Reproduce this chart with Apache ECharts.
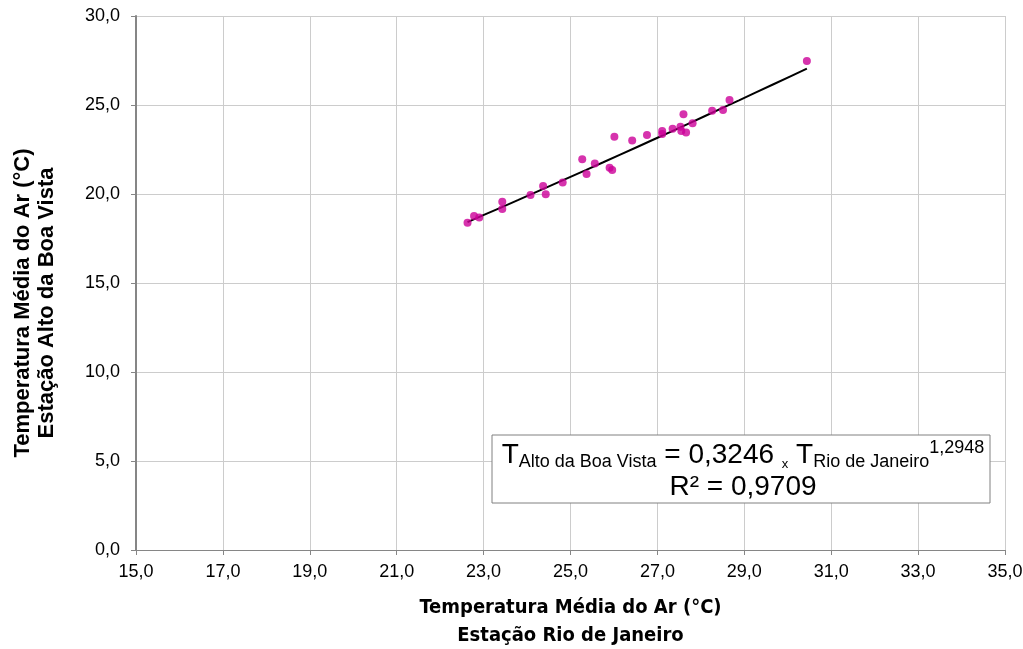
<!DOCTYPE html>
<html>
<head>
<meta charset="utf-8">
<script src="https://cdn.jsdelivr.net/npm/echarts@6/dist/echarts.min.js"></script>
<style>
  html, body { margin: 0; padding: 0; background: #fff; }
  #chart { width: 1023px; height: 649px; }
</style>
</head>
<body>
<div id="chart"></div>
<script>
// temperaturas médias - Rio de Janeiro (x) vs Alto da Boa Vista (y)
var rioJaneiro = [22.63, 22.78, 22.9, 23.43, 23.43, 24.08, 24.37, 24.43, 24.82, 25.27, 25.37, 25.56,
    25.90, 25.96, 26.01, 26.42, 26.76, 27.11, 27.11, 27.35, 27.53, 27.55, 27.60, 27.66, 27.81,
    28.26, 28.51, 28.66, 30.44];
var altoBoaVista = [18.39, 18.76, 18.68, 19.57, 19.16, 19.94, 20.45, 19.98, 20.64, 21.95, 21.12, 21.72,
    21.48, 21.35, 23.22, 23.01, 23.31, 23.54, 23.37, 23.67, 23.78, 23.54, 24.48, 23.45, 23.97,
    24.68, 24.72, 25.28, 27.47];
// linha de tendência (potência) com os coeficientes mostrados no gráfico
var coefA = 0.3246;
var coefB = 1.2948;
var xTicks = [15, 35, 2];   // min, max, intervalo
var yTicks = [0, 30, 5];

var pontos = [];
for (var i = 0; i < rioJaneiro.length; i++) {
    pontos.push([rioJaneiro[i], altoBoaVista[i]]);
}
var xMin = Math.min.apply(null, rioJaneiro);
var xMax = Math.max.apply(null, rioJaneiro);
var tendencia = [];
for (var k = 0; k <= 20; k++) {
    var xv = xMin + (xMax - xMin) * k / 20;
    tendencia.push([xv, coefA * Math.pow(xv, coefB)]);
}

function fmt(v) { return v.toFixed(1).replace('.', ','); }

var eixoCor = '#868686';
var gradeCor = '#cccccc';
var fonte = 'Liberation Sans, Arial';

var option = {
    animation: false,
    backgroundColor: '#fff',
    grid: { left: 136, right: 18, top: 16, bottom: 99, containLabel: false, outerBoundsMode: 'none' },
    xAxis: {
        type: 'value',
        min: xTicks[0], max: xTicks[1], interval: xTicks[2],
        axisLine: { lineStyle: { color: eixoCor, width: 1 } },
        axisTick: { show: true, length: 5, lineStyle: { color: eixoCor } },
        splitLine: { show: true, lineStyle: { color: gradeCor, width: 1 } },
        axisLabel: { formatter: fmt, color: '#000', fontFamily: fonte, fontSize: 18, margin: 13 },
        name: 'Temperatura Média do Ar (°C)\nEstação Rio de Janeiro',
        nameLocation: 'middle',
        nameGap: 44,
        nameTextStyle: { color: '#000', fontFamily: 'Liberation Sans Narrow, DejaVu Sans Condensed, Liberation Sans', fontWeight: 'bold', fontSize: 20, lineHeight: 28 }
    },
    yAxis: {
        type: 'value',
        min: yTicks[0], max: yTicks[1], interval: yTicks[2],
        axisLine: { show: true, lineStyle: { color: eixoCor, width: 2 } },
        axisTick: { show: true, length: 5, lineStyle: { color: eixoCor } },
        splitLine: { show: true, lineStyle: { color: gradeCor, width: 1 } },
        axisLabel: { formatter: fmt, color: '#000', fontFamily: fonte, fontSize: 18, margin: 16 },
        name: 'Temperatura Média do Ar (°C)\nEstação Alto da Boa Vista',
        nameLocation: 'middle',
        nameGap: 77,
        nameTextStyle: { color: '#000', fontFamily: fonte, fontWeight: 'bold', fontSize: 22, lineHeight: 24, padding: [0, 40, 0, 0] }
    },
    series: [
        {
            type: 'line',
            data: tendencia,
            showSymbol: false,
            lineStyle: { color: '#000', width: 2 },
            z: 3
        },
        {
            type: 'scatter',
            data: pontos,
            symbol: 'circle',
            symbolSize: 8,
            itemStyle: { color: '#cc0099' },
            z: 4
        }
    ],
    graphic: [
        {
            type: 'rect',
            shape: { x: 492, y: 435, width: 498, height: 68 },
            style: { fill: '#fff', stroke: '#808080', lineWidth: 1 },
            z: 10
        },
        {
            type: 'text',
            x: 743, y: 439,
            z: 11,
            style: {
                text: '{big|T}{sub|Alto da Boa Vista}{big| = 0,3246 }{x|x}{big| T}{sub|Rio de Janeiro}{sup|1,2948}\n{big|R² = 0,9709}',
                align: 'center',
                fill: '#000',
                fontFamily: fonte,
                rich: {
                    big: { fontSize: 28, fontFamily: fonte, lineHeight: 32, verticalAlign: 'middle' },
                    sub: { fontSize: 18, fontFamily: fonte, lineHeight: 32, verticalAlign: 'bottom' },
                    sup: { fontSize: 18, fontFamily: fonte, lineHeight: 30, verticalAlign: 'top' },
                    x: { fontSize: 13, fontFamily: fonte, lineHeight: 32, verticalAlign: 'bottom' }
                }
            }
        }
    ]
};

var chart = echarts.init(document.getElementById('chart'));
chart.setOption(option);
</script>
</body>
</html>
